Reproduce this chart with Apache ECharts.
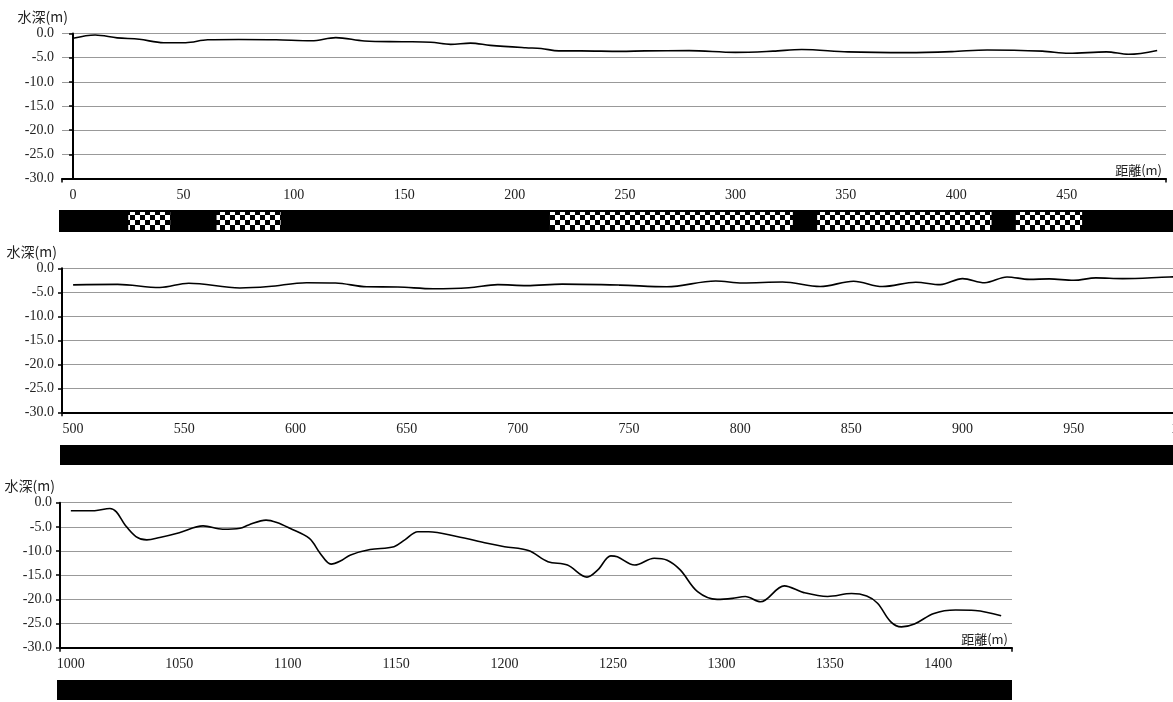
<!DOCTYPE html>
<html><head><meta charset="utf-8">
<script src="https://cdn.jsdelivr.net/npm/echarts@6/dist/echarts.min.js"></script>
<style>html,body{margin:0;padding:0;background:#fff;overflow:hidden}#c{width:1173px;height:702px}</style>
</head><body><div id="c"></div>
<script>
// ---- data ----
const dist1 = [0, 10, 20, 30, 41, 51, 61, 75, 92, 108, 119, 132, 149, 162, 171, 180, 189, 205, 212, 220, 230, 248, 259, 279, 300, 317, 330, 351, 378, 398, 414, 439, 451, 468, 478, 491];
const depth1 = [-1.0, -0.3, -0.9, -1.2, -1.9, -1.9, -1.3, -1.25, -1.3, -1.5, -0.85, -1.55, -1.7, -1.8, -2.25, -2.0, -2.45, -2.95, -3.1, -3.6, -3.6, -3.7, -3.6, -3.55, -3.9, -3.65, -3.3, -3.8, -3.95, -3.75, -3.4, -3.65, -4.1, -3.8, -4.3, -3.5];

const dist2 = [500, 520, 539, 552, 575, 588, 605, 618, 632, 646, 662, 678, 691, 704, 720, 746, 767, 789, 801, 819, 836, 851, 864, 879, 890, 900, 910, 920, 930, 939, 950, 960, 972, 993, 1000];
const depth2 = [-3.45, -3.35, -4.0, -3.1, -4.1, -3.8, -3.0, -3.05, -3.85, -3.9, -4.25, -4.05, -3.4, -3.6, -3.3, -3.5, -3.85, -2.65, -3.05, -2.85, -3.8, -2.7, -3.8, -2.9, -3.4, -2.15, -3.0, -1.8, -2.3, -2.2, -2.5, -2.0, -2.15, -1.8, -1.75];

const dist3 = [1000, 1011, 1018, 1021, 1025, 1030, 1035, 1041, 1050, 1061, 1070, 1078, 1082, 1090, 1095, 1101, 1110, 1115, 1120, 1125, 1129, 1138, 1149, 1154, 1160, 1165, 1178, 1192, 1200, 1211, 1220, 1229, 1238, 1243, 1249, 1252, 1260, 1269, 1275, 1281, 1289, 1298, 1305, 1311, 1318, 1329, 1338, 1349, 1360, 1367, 1372, 1378, 1383, 1389, 1398, 1408, 1417, 1429];
const depth3 = [-1.65, -1.65, -1.2, -1.9, -4.6, -7.0, -7.7, -7.2, -6.2, -4.8, -5.5, -5.3, -4.6, -3.6, -4.1, -5.3, -7.4, -10.5, -12.7, -11.9, -10.8, -9.7, -9.1, -7.7, -6.0, -6.0, -7.0, -8.4, -9.1, -9.9, -12.2, -12.9, -15.4, -13.9, -11.0, -11.2, -12.9, -11.5, -11.9, -13.9, -18.4, -20.0, -19.8, -19.4, -20.5, -17.2, -18.6, -19.4, -18.8, -19.3, -20.8, -24.6, -25.7, -25.1, -22.9, -22.2, -22.3, -23.4];

const xTicks1 = [0, 50, 100, 150, 200, 250, 300, 350, 400, 450];
const xTicks2 = [500, 550, 600, 650, 700, 750, 800, 850, 900, 950, 1000];
const xTicks3 = [1000, 1050, 1100, 1150, 1200, 1250, 1300, 1350, 1400];
const xRange1 = [-5, 495];
const xRange2 = [495, 1005];
const xRange3 = [995, 1434];
const yRange = [-30, 0];
const yStep = 5;
const checker1 = [[25, 44], [65, 94], [216, 326], [337, 416], [427, 457]];
const yName = '水深(m)';
const xName = '距離(m)';

// ---- layout ----
const mainGrids = [
  {left: 62, top: 33.5, width: 1104, height: 145},
  {left: 62, top: 268.3, width: 1134, height: 144},
  {left: 60, top: 502.7, width: 952, height: 145}
];
const bandGrids = [
  {left: 59, top: 210, width: 1114, height: 22},
  {left: 60, top: 445, width: 1113, height: 20},
  {left: 57, top: 680, width: 955, height: 20}
];
const ranges = [xRange1, xRange2, xRange3];
const tickSets = [xTicks1, xTicks2, xTicks3];
const lines = [[dist1, depth1], [dist2, depth2], [dist3, depth3]];
const showXName = [true, false, true];

const SERIF = "'Liberation Serif','DejaVu Serif',serif";
const CJK = "'Noto Sans CJK JP','Noto Sans CJK SC',sans-serif";

// checker pattern
const CELL = 5;
const pc = document.createElement('canvas');
pc.width = CELL * 2; pc.height = CELL * 2;
const pctx = pc.getContext('2d');
pctx.fillStyle = '#fff'; pctx.fillRect(0, 0, CELL * 2, CELL * 2);
pctx.fillStyle = '#000'; pctx.fillRect(CELL, 0, CELL, CELL); pctx.fillRect(0, CELL, CELL, CELL);
const checkerFill = {image: pc, repeat: 'repeat'};

const grid = [], xAxis = [], yAxis = [], series = [];
mainGrids.forEach((g, i) => {
  grid.push(Object.assign({containLabel: false, outerBoundsMode: 'none'}, g));
  const r = ranges[i];
  xAxis.push({
    type: 'value', gridIndex: i, min: r[0], max: r[1],
    name: showXName[i] ? xName : '', nameLocation: 'end', nameGap: 0,
    nameTextStyle: {fontFamily: CJK, fontSize: 13, color: '#222', align: 'right', verticalAlign: 'bottom', padding: [0, 4, 2, 0]},
    axisLine: {show: true, onZero: false, lineStyle: {color: '#000', width: 2}},
    axisTick: {show: true, customValues: [r[0], r[1]], length: 4, lineStyle: {color: '#000', width: 1.5}},
    axisLabel: {customValues: tickSets[i], margin: 10, fontFamily: SERIF, fontSize: 14, color: '#222', formatter: v => String(v)},
    splitLine: {show: false}
  });
  yAxis.push({
    type: 'value', gridIndex: i, min: yRange[0], max: yRange[1], interval: yStep,
    name: yName, nameLocation: 'end', nameGap: 17,
    nameTextStyle: {fontFamily: CJK, fontSize: 14, color: '#222', align: 'right', verticalAlign: 'middle', padding: [0, 5, 0, 0]},
    axisLine: {show: true, lineStyle: {color: '#000', width: 2}},
    axisTick: {show: true, length: 4, lineStyle: {color: '#000', width: 1.5}},
    axisLabel: {margin: 8, fontFamily: SERIF, fontSize: 14, color: '#222', formatter: v => v.toFixed(1)},
    splitLine: {show: true, lineStyle: {color: '#999', width: 1}}
  });
  series.push({
    type: 'line', xAxisIndex: i, yAxisIndex: i,
    data: lines[i][0].map((d, k) => [d, lines[i][1][k]]),
    smooth: 0.35, showSymbol: false, symbol: 'none',
    lineStyle: {color: '#000', width: 1.6}, silent: true
  });
});

bandGrids.forEach((b, i) => {
  const m = mainGrids[i], r = ranges[i];
  const scale = m.width / (r[1] - r[0]);
  const bmin = r[0] - (m.left - b.left) / scale;
  const bmax = bmin + b.width / scale;
  grid.push(Object.assign({show: true, backgroundColor: '#000', borderWidth: 0, outerBoundsMode: 'none'}, b));
  xAxis.push({type: 'value', gridIndex: 3 + i, min: bmin, max: bmax, show: false});
  yAxis.push({type: 'value', gridIndex: 3 + i, min: 0, max: 1, show: false});
});

series.push({
  type: 'custom', xAxisIndex: 3, yAxisIndex: 3, silent: true,
  data: checker1,
  renderItem: function (params, api) {
    const s = api.coord([api.value(0), 1]);
    const e = api.coord([api.value(1), 0]);
    return {
      type: 'rect',
      shape: {x: s[0], y: s[1] + 2, width: e[0] - s[0], height: e[1] - s[1] - 4},
      style: {fill: checkerFill}
    };
  },
  encode: {x: [0, 1]}
});

const chart = echarts.init(document.getElementById('c'), null, {renderer: 'canvas'});
chart.setOption({animation: false, grid, xAxis, yAxis, series});
</script></body></html>
